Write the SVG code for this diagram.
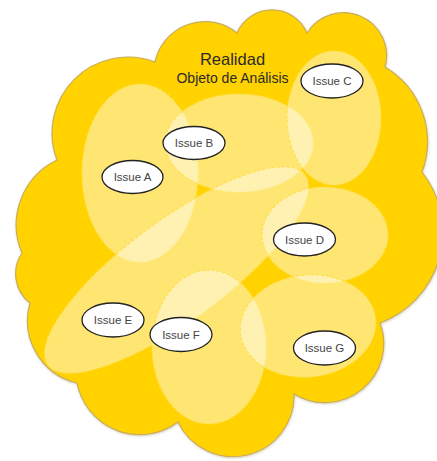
<svg xmlns="http://www.w3.org/2000/svg" width="437" height="461" viewBox="0 0 437 461">
  <defs>
    <style>
      .cloud { fill: #FFD200; stroke: #C9AE5A; stroke-width: 1.2; }
      .zone { fill: #FFFFFF; fill-opacity: 0.45; stroke: #FFDF4A; stroke-width: 1.2; stroke-dasharray: 3 2; }
      .issue { fill: #FFFFFF; stroke: #222222; stroke-width: 1.3; }
      .issue-label { font-family: "Liberation Sans", Arial, sans-serif; font-size: 11.5px; fill: #444444; text-anchor: middle; }
      .title { font-family: "Liberation Sans", Arial, sans-serif; fill: #2A2A2A; text-anchor: middle; }
    </style>
    <filter id="soft" x="-5%" y="-5%" width="110%" height="110%">
      <feDropShadow dx="0.5" dy="1" stdDeviation="1" flood-color="#8A7A40" flood-opacity="0.35"/>
    </filter>
  </defs>

  <!-- outer cloud: reality as a whole -->
  <path id="realidad" class="cloud" filter="url(#soft)"
        d="M 57 160 A 76 76 0 0 1 155 62 A 51 51 0 0 1 237 33 A 38 38 0 0 1 307 33
           A 43 43 0 0 1 385 67 A 87 87 0 0 1 422 172 A 97 97 0 0 1 380 323
           A 59 59 0 0 1 294 394 A 61 61 0 0 1 178 422 A 64 64 0 0 1 77 383
           A 64 64 0 0 1 30 303 A 37 37 0 0 1 22 253 A 72 72 0 0 1 57 160 Z"/>

  <!-- overlapping areas of analysis -->
  <g id="zones">
    <ellipse class="zone" cx="140" cy="173" rx="58" ry="89"/>
    <ellipse class="zone" cx="239" cy="143" rx="74" ry="49"/>
    <ellipse class="zone" cx="334" cy="118" rx="47" ry="67"/>
    <ellipse class="zone" cx="0" cy="0" rx="160" ry="50" transform="translate(176.5 270) rotate(-36.5)"/>
    <ellipse class="zone" cx="325" cy="235" rx="63" ry="48"/>
    <ellipse class="zone" cx="209" cy="347" rx="57" ry="77"/>
    <ellipse class="zone" cx="0" cy="0" rx="68" ry="51" transform="translate(308 326) rotate(-6)"/>
  </g>

  <!-- heading -->
  <g id="heading">
    <text class="title" x="232.5" y="65" font-size="16.5">Realidad</text>
    <text class="title" x="232.5" y="83" font-size="14">Objeto de Análisis</text>
  </g>

  <!-- issues -->
  <g id="issue-a">
    <ellipse class="issue" cx="132.5" cy="177" rx="30.5" ry="16.5"/>
    <text class="issue-label" x="132.5" y="181">Issue A</text>
  </g>
  <g id="issue-b">
    <ellipse class="issue" cx="194" cy="143" rx="31" ry="16.5"/>
    <text class="issue-label" x="194" y="147">Issue B</text>
  </g>
  <g id="issue-c">
    <ellipse class="issue" cx="332" cy="81" rx="31" ry="17"/>
    <text class="issue-label" x="332" y="85">Issue C</text>
  </g>
  <g id="issue-d">
    <ellipse class="issue" cx="304.5" cy="239.5" rx="31" ry="16.5"/>
    <text class="issue-label" x="304.5" y="243.5">Issue D</text>
  </g>
  <g id="issue-e">
    <ellipse class="issue" cx="113" cy="320" rx="31" ry="17"/>
    <text class="issue-label" x="113" y="324">Issue E</text>
  </g>
  <g id="issue-f">
    <ellipse class="issue" cx="181" cy="334.5" rx="31" ry="17"/>
    <text class="issue-label" x="181" y="338.5">Issue F</text>
  </g>
  <g id="issue-g">
    <ellipse class="issue" cx="324.5" cy="348" rx="31" ry="17"/>
    <text class="issue-label" x="324.5" y="352">Issue G</text>
  </g>
</svg>
